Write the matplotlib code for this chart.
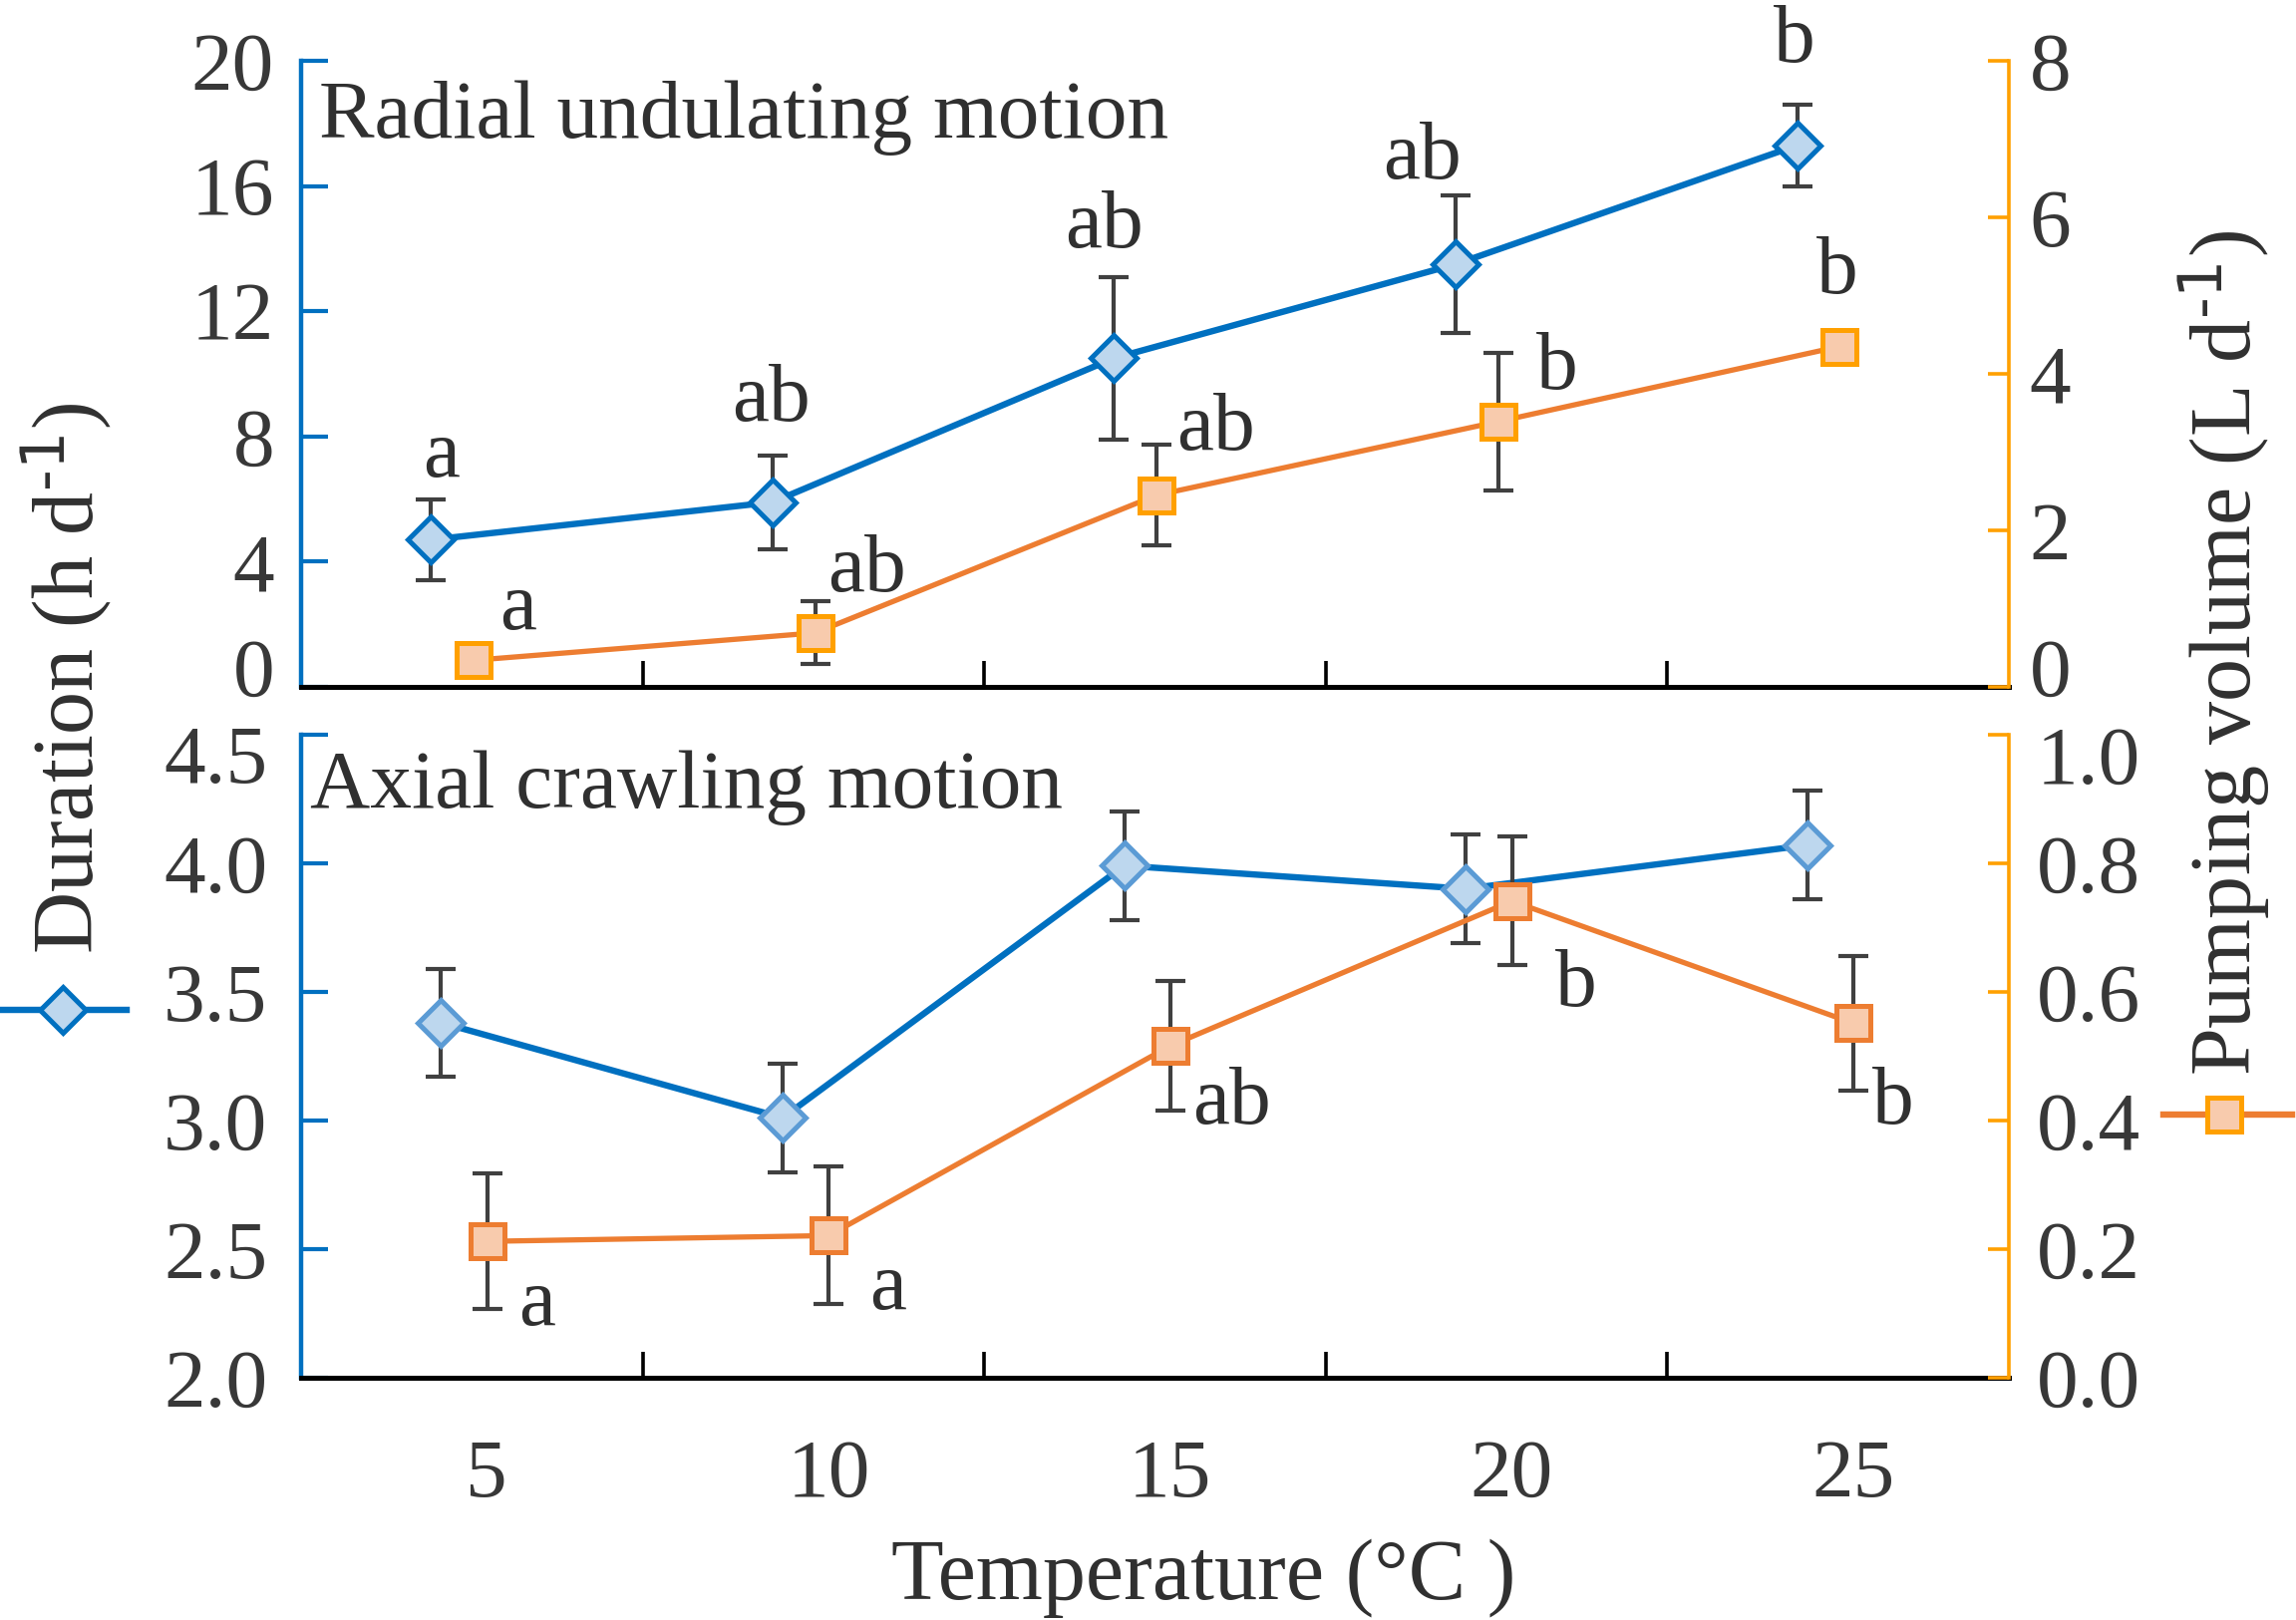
import matplotlib
matplotlib.use('Agg')
import matplotlib.pyplot as plt
from matplotlib.lines import Line2D
from matplotlib.transforms import ScaledTranslation
import numpy as np

plt.rcParams['font.family'] = ['Liberation Serif', 'DejaVu Serif']
plt.rcParams['mathtext.default'] = 'regular'

# ---------------- data ----------------
temperatures = ['5', '10', '15', '20', '25']

radial_duration = [4.7, 5.9, 10.5, 13.5, 17.3]
radial_duration_se = [1.3, 1.5, 2.6, 2.2, 1.3]
radial_volume = [0.34, 0.69, 2.45, 3.39, 4.35]
radial_volume_se = [0.12, 0.40, 0.64, 0.88, 0.12]
radial_duration_letters = ['a', 'ab', 'ab', 'ab', 'b']
radial_volume_letters = ['a', 'ab', 'ab', 'b', 'b']

axial_duration = [3.38, 3.01, 3.99, 3.90, 4.07]
axial_duration_se = [0.21, 0.21, 0.21, 0.21, 0.21]
axial_volume = [0.212, 0.221, 0.516, 0.741, 0.551]
axial_volume_se = [0.105, 0.107, 0.100, 0.100, 0.104]
axial_volume_letters = ['a', 'a', 'ab', 'b', 'b']

top_left_ticks = [0, 4, 8, 12, 16, 20]
top_right_ticks = [0, 2, 4, 6, 8]
bot_left_ticks = [2.0, 2.5, 3.0, 3.5, 4.0, 4.5]
bot_right_ticks = [0.0, 0.2, 0.4, 0.6, 0.8, 1.0]

# ---------------- styles ----------------
BLUE = '#0070C0'
BLUE_FILL = '#BDD7EE'
BLUE_EDGE2 = '#5B9BD5'
ORANGE = '#ED7D31'
ORANGE_FILL = '#F8CBAD'
GOLD = '#FFA000'
ERR = '#404040'
TXT = '#383838'
FS = 30

W, H, DPI = 2303, 1625, 200
fig = plt.figure(figsize=(W / DPI, H / DPI), dpi=DPI)

left = 302 / W
width = (2015 - 302) / W
ax_top = fig.add_axes([left, 1 - 689 / H, width, (689 - 61) / H])
ax_bot = fig.add_axes([left, 1 - 1382 / H, width, (1382 - 736.7) / H])
ax_top2 = ax_top.twinx()
ax_bot2 = ax_bot.twinx()

cats = np.arange(1, len(temperatures) + 1)


def series(ax, x, y, e, lc, fc, ec, marker, ms, lw, mew):
    ax.errorbar(x, y, yerr=e, fmt='none', ecolor=ERR, elinewidth=1.5,
                capsize=5.4, capthick=1.5, zorder=3)
    ax.plot(x, y, color=lc, lw=lw, zorder=2)
    ax.plot(x, y, ls='none', marker=marker, ms=ms, mfc=fc, mec=ec,
            mew=mew, zorder=4)


def letters(ax, x, y, e, labs, offs, sign, ha):
    for xi, yi, ei, lab, (dx, dy) in zip(x, y, e, labs, offs):
        ax.annotate(lab, (xi, yi + sign * ei), xytext=(dx, dy),
                    textcoords='offset points', ha=ha, va='baseline',
                    fontsize=FS, color='#303030', zorder=5)


def shift_label(lab, dy_px):
    lab.set_transform(lab.get_transform() +
                      ScaledTranslation(0, dy_px / DPI, fig.dpi_scale_trans))


def style_axes(ax, ax2, ylim_l, ticks_l, fmt_l, ylim_r, ticks_r, fmt_r,
               padl, padr):
    ax.set_xlim(0.5, len(temperatures) + 0.5)
    ax.set_ylim(*ylim_l)
    ax2.set_ylim(*ylim_r)
    for s in ['top', 'right']:
        ax.spines[s].set_visible(False)
    for s in ['top', 'left', 'bottom']:
        ax2.spines[s].set_visible(False)
    ax.spines['left'].set_color(BLUE)
    ax.spines['left'].set_linewidth(1.6)
    ax.spines['bottom'].set_color('black')
    ax.spines['bottom'].set_linewidth(1.8)
    ax2.spines['right'].set_color(GOLD)
    ax2.spines['right'].set_linewidth(1.3)
    ax.set_yticks(ticks_l)
    ax.set_yticklabels([fmt_l.format(t) for t in ticks_l])
    ax2.set_yticks(ticks_r)
    ax2.set_yticklabels([fmt_r.format(t) for t in ticks_r])
    ax.tick_params(axis='y', direction='in', length=9.7, width=1.5,
                   color=BLUE, labelcolor=TXT, labelsize=FS, pad=padl)
    ax2.tick_params(axis='y', direction='in', length=7.7, width=1.3,
                    color=GOLD, labelcolor=TXT, labelsize=FS, pad=padr)
    ax.set_xticks(cats[:-1] + 0.5)
    ax.set_xticklabels([])
    ax.tick_params(axis='x', which='major', direction='in', length=9.4,
                   width=1.3, color='black')


# ---------------- top panel ----------------
style_axes(ax_top, ax_top2, (0, 20), top_left_ticks, '{:g}',
           (0, 8), top_right_ticks, '{:g}', 9.7, 7.5)
xb = cats - 0.12
xo = cats + 0.005
series(ax_top, xb, radial_duration, radial_duration_se, BLUE, BLUE_FILL,
       BLUE, 'D', 11.5, 2.3, 1.8)
series(ax_top2, xo, radial_volume, radial_volume_se, ORANGE, ORANGE_FILL,
       GOLD, 's', 12.5, 1.9, 1.8)
letters(ax_top, xb, radial_duration, radial_duration_se,
        radial_duration_letters,
        [(3.6, 8.3), (-0.6, 12.6), (-3.6, 10.8), (-12.2, 6.1), (-0.9, 15.5)],
        1, 'center')
letters(ax_top2, xo, radial_volume, radial_volume_se, radial_volume_letters,
        [(9.4, 7.9), (4.6, 3.8), (7.2, -1.7), (13.9, -13.1), (-8.3, 15.7)],
        1, 'left')
ax_top.text(0.0105, 0.877, 'Radial undulating motion', transform=ax_top.transAxes,
            fontsize=FS, color='#303030', ha='left', va='baseline')

# ---------------- bottom panel ----------------
style_axes(ax_bot, ax_bot2, (2.0, 4.5), bot_left_ticks, '{:.1f}',
           (0.0, 1.0), bot_right_ticks, '{:.1f}', 12.2, 10)
xb2 = cats - 0.09
xo2 = cats + 0.045
series(ax_bot, xb2, axial_duration, axial_duration_se, BLUE, BLUE_FILL,
       BLUE_EDGE2, 'D', 11.5, 2.3, 1.8)
series(ax_bot2, xo2, axial_volume, axial_volume_se, ORANGE, ORANGE_FILL,
       ORANGE, 's', 12.5, 1.9, 1.8)
letters(ax_bot2, xo2, axial_volume, axial_volume_se, axial_volume_letters,
        [(11.4, -5.8), (14.8, -1.8), (8.1, -4.7), (15.8, -14.5), (6.9, -12.0)],
        -1, 'left')
ax_bot.text(0.005, 0.886, 'Axial crawling motion', transform=ax_bot.transAxes,
            fontsize=FS, color='#303030', ha='left', va='baseline')

# end tick labels nudged inward, as in the reference
shift_label(ax_top.yaxis.get_major_ticks()[0].label1, 20)
shift_label(ax_top2.yaxis.get_major_ticks()[0].label2, 20)
shift_label(ax_bot.yaxis.get_major_ticks()[-1].label1, -20)
shift_label(ax_bot2.yaxis.get_major_ticks()[-1].label2, -20)

# x tick labels (category centres) on bottom panel
ax_bot.set_xticks(cats, minor=True)
ax_bot.set_xticklabels(temperatures, minor=True)
ax_bot.tick_params(axis='x', which='minor', length=0, pad=22,
                   labelsize=FS, labelcolor=TXT)
shift = ScaledTranslation(15 / DPI, 0, fig.dpi_scale_trans)
for lab in ax_bot.get_xticklabels(minor=True):
    lab.set_transform(lab.get_transform() + shift)

# ---------------- axis titles ----------------
fig.text(1207 / W, 1 - 1583 / H, 'Temperature (°C )', ha='center', va='center',
         fontsize=31, color='#303030')
fig.text(67 / W, 1 - 680 / H, r'Duration (h d$^{\text{-1}}$)', rotation=90,
         ha='center', va='center', fontsize=31, color='#303030')
fig.text(2231 / W, 1 - 655 / H, r'Pumping volume (L d$^{\text{-1}}$)', rotation=90,
         ha='center', va='center', fontsize=31, color='#303030')

# legend keys next to the axis titles
fig.add_artist(Line2D([2 / W, 63 / W, 127 / W], [1 - 1013 / H] * 3,
                      transform=fig.transFigure, color=BLUE, lw=2.3,
                      marker='D', markevery=[1], ms=11.5, mfc=BLUE_FILL,
                      mec=BLUE, mew=1.8))
fig.add_artist(Line2D([2170 / W, 2231 / W, 2299 / W], [1 - 1118 / H] * 3,
                      transform=fig.transFigure, color=ORANGE, lw=2.3,
                      marker='s', markevery=[1], ms=12.5, mfc=ORANGE_FILL,
                      mec=GOLD, mew=1.8))

fig.savefig('out.png', dpi=DPI)
